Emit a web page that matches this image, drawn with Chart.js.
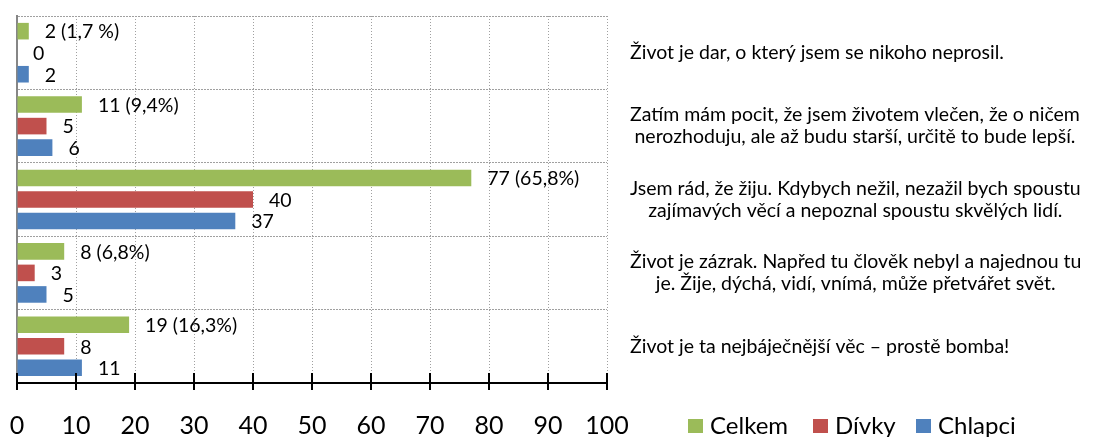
<!DOCTYPE html>
<html><head><meta charset="utf-8">
<script src="https://cdn.jsdelivr.net/npm/chart.js@4.4.0/dist/chart.umd.min.js"></script>
<style>html,body{margin:0;padding:0;background:#fff;} canvas{display:block;}</style>
</head><body>
<canvas id="c" width="1096" height="437"></canvas>
<script>
const categories = [
  ["Život je dar, o který jsem se nikoho neprosil."],
  ["Zatím mám pocit, že jsem životem vlečen, že o ničem", "nerozhoduju, ale až budu starší, určitě to bude lepší."],
  ["Jsem rád, že žiju. Kdybych nežil, nezažil bych spoustu", "zajímavých věcí a nepoznal spoustu skvělých lidí."],
  ["Život je zázrak. Napřed tu člověk nebyl a najednou tu", "je. Žije, dýchá, vidí, vnímá, může přetvářet svět."],
  ["Život je ta nejbáječnější věc – prostě bomba!"]
];
const seriesNames = ["Celkem", "Dívky", "Chlapci"];
const celkem = [2, 11, 77, 8, 19];
const divky = [0, 5, 40, 3, 8];
const chlapci = [2, 6, 37, 5, 11];
const celkemPct = ["1,7 %", "9,4%", "65,8%", "6,8%", "16,3%"];
const xMin = 0, xMax = 100, xStep = 10;
const colors = ["#9BBB59", "#C0504D", "#4F81BD"];

const FONT = 'Lato, "Open Sans", sans-serif';
const legendX = [688, 813, 916];

const overlay = {
  id: 'overlay',
  afterDatasetsDraw(chart) {
    const ctx = chart.ctx, xs = chart.scales.x, ys = chart.scales.y, area = chart.chartArea;
    ctx.save();
    // crossing tick marks
    ctx.strokeStyle = '#000'; ctx.lineWidth = 2;
    xs.ticks.forEach((t, i) => {
      const px = Math.round(xs.getPixelForTick(i));
      ctx.beginPath(); ctx.moveTo(px, area.bottom - 10); ctx.lineTo(px, area.bottom + 7); ctx.stroke();
    });
    // data labels
    ctx.font = '19.5px ' + FONT; ctx.fillStyle = '#000'; ctx.textBaseline = 'middle'; ctx.textAlign = 'left';
    chart.data.datasets.forEach((ds, di) => {
      chart.getDatasetMeta(di).data.forEach((el, i) => {
        const v = ds.data[i];
        const txt = di === 0 ? v + ' (' + celkemPct[i] + ')' : String(v);
        ctx.fillText(txt, el.x + 16, el.y + 1);
      });
    });
    // category labels on the right
    ctx.font = '19.5px ' + FONT; ctx.textAlign = 'center';
    categories.forEach((lines, i) => {
      const cy = ys.getPixelForValue(i);
      const w = Math.max(...lines.map(l => ctx.measureText(l).width));
      const cx = 630 + w / 2;
      lines.forEach((l, k) => ctx.fillText(l, cx, cy + (k - (lines.length - 1) / 2) * 22));
    });
    // legend
    ctx.font = '24px ' + FONT; ctx.textAlign = 'left';
    chart.data.datasets.forEach((ds, di) => {
      const lx = legendX[di];
      ctx.fillStyle = ds.backgroundColor;
      ctx.fillRect(lx, 419, 15, 14);
      ctx.fillStyle = '#000';
      ctx.fillText(ds.label, lx + 22, 426);
    });
    ctx.restore();
  }
};

new Chart(document.getElementById('c'), {
  type: 'bar',
  data: {
    labels: categories,
    datasets: [
      { label: seriesNames[0], data: celkem, backgroundColor: colors[0] },
      { label: seriesNames[1], data: divky, backgroundColor: colors[1] },
      { label: seriesNames[2], data: chlapci, backgroundColor: colors[2] }
    ]
  },
  options: {
    indexAxis: 'y',
    responsive: false,
    animation: false,
    categoryPercentage: 0.88,
    barPercentage: 0.77,
    layout: { padding: { left: 17, right: 489, top: 16, bottom: -3 } },
    plugins: { legend: { display: false }, tooltip: { enabled: false } },
    scales: {
      x: {
        min: xMin, max: xMax,
        ticks: { stepSize: xStep, color: '#000', font: { family: FONT, size: 25, lineHeight: 1 }, padding: 2, maxRotation: 0 },
        grid: { color: '#A0A0A0', drawTicks: true, tickLength: 28, tickColor: 'rgba(0,0,0,0)', lineWidth: 1 },
        border: { display: true, color: '#000', width: 2, dash: [1, 2] }
      },
      y: {
        position: 'left',
        ticks: { display: false },
        grid: { color: '#A0A0A0', drawTicks: false, offset: true, lineWidth: 1 },
        border: { display: true, color: '#868686', width: 2, dash: [2, 1] }
      }
    }
  },
  plugins: [overlay]
});
</script>
</body></html>
